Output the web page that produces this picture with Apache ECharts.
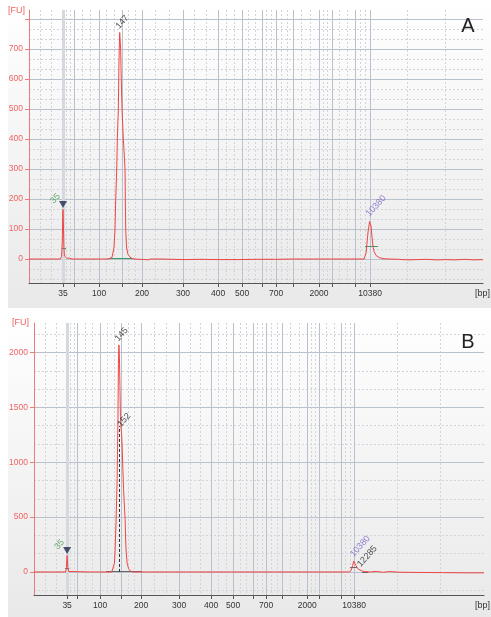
<!DOCTYPE html>
<html>
<head>
<meta charset="utf-8">
<script src="https://cdn.jsdelivr.net/npm/echarts@6/dist/echarts.min.js"></script>
<style>
  html, body { margin: 0; padding: 0; background: #fff; }
  #chart { width: 491px; height: 617px; }
</style>
</head>
<body>
<div id="chart"></div>
<script>
// ladder sizes (bp) and where they ran (migration time, s) in each sample
const ladderBp = [35, 50, 100, 150, 200, 300, 400, 500, 600, 700, 1000, 2000, 3000, 7000, 10380]
const labeledBp = [35, 100, 200, 300, 400, 500, 700, 2000, 10380]
const ladderTimeA = [43.0, 45.33, 50.62, 55.49, 59.72, 68.40, 75.81, 80.89, 85.13, 88.09, 91.69, 97.20, 99.95, 104.82, 108.0]
const ladderTimeB = [43.0, 45.27, 50.47, 55.23, 59.76, 68.37, 75.62, 80.60, 85.13, 88.08, 91.70, 97.36, 100.08, 105.06, 108.0]

// FU axis ticks
const fuTicksA = [0, 100, 200, 300, 400, 500, 600, 700, 800]
const fuLabelsA = [0, 100, 200, 300, 400, 500, 600, 700]
const fuTicksB = [0, 500, 1000, 1500, 2000]
const fuLabelsB = [0, 500, 1000, 1500, 2000]

// electropherogram traces [time, FU]
const traceA = [
  [35.8, 0], [38, 0], [40, 0], [42.4, 0], [42.7, 8], [42.85, 60], [42.95, 150], [43.0, 165], [43.08, 120],
  [43.18, 40], [43.3, 10], [43.5, 4], [43.8, 3], [44.3, 3], [44.9, 0], [47, 0], [50, 0],
  [52.53, 0], [53.37, 5], [53.80, 40], [54.01, 100], [54.16, 200], [54.37, 300], [54.50, 400], [54.71, 500],
  [54.79, 600], [54.90, 700], [55.0, 755], [55.20, 700], [55.33, 600], [55.49, 500], [55.77, 400], [56.13, 300],
  [56.19, 200], [56.27, 100], [56.44, 40], [56.76, 15], [57.40, 3], [58.03, 0],
  [60.5, -2], [61.0, -3], [61.5, 0], [64, 0], [66, -1], [69, -2], [72, -1], [76, -2], [80, -2], [84, -1],
  [88, -1], [92, 0], [96, 0], [100, 0], [104, 0],
  [106.72, 0], [107.15, 20], [107.57, 90], [107.89, 125], [108.0, 130], [108.20, 110], [108.42, 70],
  [108.63, 40], [108.84, 25], [109.26, 12], [109.90, 5], [110.74, 1], [112.23, 0],
  [114, -1], [116, -3], [118, -2], [120, -1], [122, -3], [124, -2], [126, -3], [128, -1], [130, -3], [131.9, -2]
]
const traceB = [
  [35.5, 0], [40, 0], [42.66, 0], [42.84, 40], [43.0, 150], [43.16, 40], [43.34, 5], [43.68, 0], [48, 0],
  [53.12, 0], [53.42, 10], [53.71, 80], [53.87, 200], [54.10, 480], [54.33, 850], [54.51, 1400], [54.62, 1900],
  [54.73, 2070], [54.85, 1950], [54.96, 1700], [55.07, 1420], [55.19, 1320], [55.34, 1260], [55.50, 1100],
  [55.61, 950], [55.79, 750], [56.02, 560], [56.14, 480], [56.25, 300], [56.36, 190], [56.59, 80],
  [56.93, 30], [57.27, 10], [57.73, 0], [62, 0], [70, 0], [80, 0], [90, 0], [100, 0],
  [106.87, 0], [107.33, 15], [107.67, 60], [107.89, 100], [108.0, 105], [108.23, 90], [108.45, 55],
  [108.80, 30], [109.14, 25], [109.59, 12], [110.27, 4], [111.63, 0],
  [113, 5], [114.5, -3], [116, 4], [118, -2], [122, -4], [128, -6], [134, -8], [137.4, -8]
]

// called peaks
const peakNameA = ['35', '147', '10380']
const peakTimeA = [43.0, 55.0, 108.0]
const peakFuA = [165, 755, 130]
const peakKindA = ['lower', 'sample', 'upper']
const peakNameB = ['35', '145', '152', '10380', '12285']
const peakTimeB = [43.0, 54.73, 55.32, 108.0, 109.6]
const peakFuB = [150, 2070, 1290, 105, 14]
const peakKindB = ['lower', 'sample', 'sample', 'upper', 'sample']

// peak region / width bars [tStart, tEnd, FU]
const barsA = [[42.72, 43.64, 37], [52.53, 57.82, 3], [106.93, 109.69, 43]]
const barsB = [[42.55, 43.45, 36], [51.83, 59.99, 4], [107.1, 108.7, 45], [109.8, 111.2, 0]]
// peak split line in B [time, FU top]
const splitB = [54.9, 1330]

const font = 'Liberation Sans'
const kindColor = { lower: '#3d9a4a', upper: '#7b62c8', sample: '#222' }

function thirds(edges) {
  const out = []
  for (let i = 0; i < edges.length - 1; i++) {
    const a = edges[i], b = edges[i + 1]
    out.push(a + (b - a) / 3, a + 2 * (b - a) / 3)
  }
  return out
}
function minorY(min, max, major) {
  const out = []
  const s = major / 3
  for (let k = Math.ceil(min / s); k * s <= max; k++) if (k % 3 !== 0) out.push(k * s)
  return out
}

function xAxesFor(grid, min, max, times) {
  const labelTimes = labeledBp.map(b => times[ladderBp.indexOf(b)])
  return [
    {
      type: 'value', gridIndex: grid, min: min, max: max, z: 2,
      axisLine: { show: true, onZero: false, lineStyle: { color: '#555', width: 1 } },
      axisTick: { show: true, customValues: times, length: 4, lineStyle: { color: '#555' } },
      axisLabel: {
        show: true, customValues: labelTimes, margin: 6, color: '#333', fontSize: 8.5, fontFamily: font,
        formatter: v => {
          const i = times.findIndex(t => Math.abs(t - v) < 1e-6)
          return i < 0 ? '' : String(ladderBp[i])
        }
      },
      splitLine: { show: true, lineStyle: { color: '#b9c1cc', width: 1 } }
    },
    {
      type: 'value', gridIndex: grid, min: min, max: max, z: 1,
      axisLine: { show: false }, axisLabel: { show: false },
      axisTick: { show: false, customValues: thirds([min, ...times, max]) },
      splitLine: { show: true, lineStyle: { color: '#d2d4d8', width: 1, type: [2, 2] } }
    }
  ]
}
function yAxesFor(grid, min, max, ticks, labels, major) {
  return [
    {
      type: 'value', gridIndex: grid, min: min, max: max, z: 2,
      axisLine: { show: true, onZero: false, lineStyle: { color: '#f07a7a', width: 1 } },
      axisTick: { show: true, customValues: ticks, length: 4, lineStyle: { color: '#f07a7a' } },
      axisLabel: {
        show: true, customValues: labels, margin: 6, color: '#ef6464', fontSize: 8.5, fontFamily: font,
        formatter: v => String(v)
      },
      splitLine: { show: true, lineStyle: { color: '#b9c1cc', width: 1 } }
    },
    {
      type: 'value', gridIndex: grid, min: min, max: max, z: 1,
      axisLine: { show: false }, axisLabel: { show: false },
      axisTick: { show: false, customValues: minorY(min, max, major) },
      splitLine: { show: true, lineStyle: { color: '#d2d4d8', width: 1, type: [2, 2] } }
    }
  ]
}

function panelSeries(xi, yi, trace, names, times, fus, kinds, bars, barColor) {
  return [
    {
      type: 'line', xAxisIndex: xi, yAxisIndex: yi, data: [], z: 1, silent: true,
      markLine: {
        symbol: 'none', silent: true, label: { show: false }, animation: false,
        lineStyle: { color: '#d4d9e0', width: 3, type: 'solid' },
        data: [{ xAxis: times[kinds.indexOf('lower')] }]
      }
    },
    {
      type: 'line', xAxisIndex: xi, yAxisIndex: yi, data: trace, z: 5,
      showSymbol: false, symbol: 'none', lineStyle: { color: '#f04545', width: 1 },
      markLine: {
        symbol: 'none', silent: true, label: { show: false }, animation: false,
        lineStyle: { color: barColor, width: 1, type: 'solid' },
        data: bars.map(b => [{ coord: [b[0], b[2]] }, { coord: [b[1], b[2]] }])
      }
    },
    {
      type: 'scatter', xAxisIndex: xi, yAxisIndex: yi, z: 6,
      symbol: 'triangle', symbolRotate: 180, symbolSize: [8, 7], symbolOffset: [0, -5],
      itemStyle: { color: '#1e2b4e' },
      data: names.map((n, i) => kinds[i] === 'lower' ? [times[i], fus[i]] : null).filter(Boolean)
    },
    {
      type: 'scatter', xAxisIndex: xi, yAxisIndex: yi, z: 7, symbolSize: 0,
      data: names.map((n, i) => ({
        value: [times[i], fus[i]], name: n,
        label: {
          color: kindColor[kinds[i]],
          offset: kinds[i] === 'lower' ? [-2, -13] : [2, -5]
        }
      })),
      label: {
        show: true, position: 'inside', align: 'left', verticalAlign: 'middle', rotate: 48,
        fontSize: 9, fontFamily: font, formatter: p => p.name
      }
    }
  ]
}

const gradient = () => new echarts.graphic.LinearGradient(0, 0, 0, 1, [
  { offset: 0, color: '#ffffff' }, { offset: 1, color: '#e9e9e9' }
])

const chart = echarts.init(document.getElementById('chart'), null, { renderer: 'canvas' })
const series = [].concat(
  panelSeries(0, 0, traceA, peakNameA, peakTimeA, peakFuA, peakKindA, barsA, '#3f9a6c'),
  panelSeries(2, 2, traceB, peakNameB, peakTimeB, peakFuB, peakKindB, barsB, '#666'),
  [{
    type: 'line', xAxisIndex: 2, yAxisIndex: 2, data: [], z: 6, silent: true,
    markLine: {
      symbol: 'none', silent: true, label: { show: false }, animation: false,
      lineStyle: { color: '#333', width: 1, type: [3, 2] },
      data: [[{ coord: [splitB[0], 0] }, { coord: [splitB[0], splitB[1]] }]]
    }
  }]
)

chart.setOption({
  animation: false,
  backgroundColor: '#fff',
  grid: [
    { left: 29, right: 8, top: 10, height: 273 },
    { left: 34, right: 7, top: 323, height: 272 }
  ],
  xAxis: [].concat(xAxesFor(0, 35.8, 131.9, ladderTimeA), xAxesFor(1, 35.5, 137.4, ladderTimeB)),
  yAxis: [].concat(yAxesFor(0, -80, 830, fuTicksA, fuLabelsA, 100), yAxesFor(1, -210, 2270, fuTicksB, fuLabelsB, 500)),
  series: series,
  graphic: [
    { type: 'rect', z: -100, silent: true, shape: { x: 8, y: 0, width: 483, height: 308 }, style: { fill: gradient() } },
    { type: 'rect', z: -100, silent: true, shape: { x: 8, y: 312, width: 483, height: 305 }, style: { fill: gradient() } },
    { type: 'text', z: 100, style: { x: 8, y: 11, text: '[FU]', fill: '#ef6464', font: '9px ' + font, textVerticalAlign: 'middle' } },
    { type: 'text', z: 100, style: { x: 12, y: 323, text: '[FU]', fill: '#ef6464', font: '9px ' + font, textVerticalAlign: 'middle' } },
    { type: 'text', z: 100, style: { x: 490, y: 294, text: '[bp]', fill: '#333', font: '9px ' + font, textAlign: 'right', textVerticalAlign: 'middle' } },
    { type: 'text', z: 100, style: { x: 490, y: 606, text: '[bp]', fill: '#333', font: '9px ' + font, textAlign: 'right', textVerticalAlign: 'middle' } },
    { type: 'text', z: 100, style: { x: 468, y: 26, text: 'A', fill: '#222', font: '20px ' + font, textAlign: 'center', textVerticalAlign: 'middle' } },
    { type: 'text', z: 100, style: { x: 468, y: 342, text: 'B', fill: '#222', font: '20px ' + font, textAlign: 'center', textVerticalAlign: 'middle' } }
  ]
})
</script>
</body>
</html>
